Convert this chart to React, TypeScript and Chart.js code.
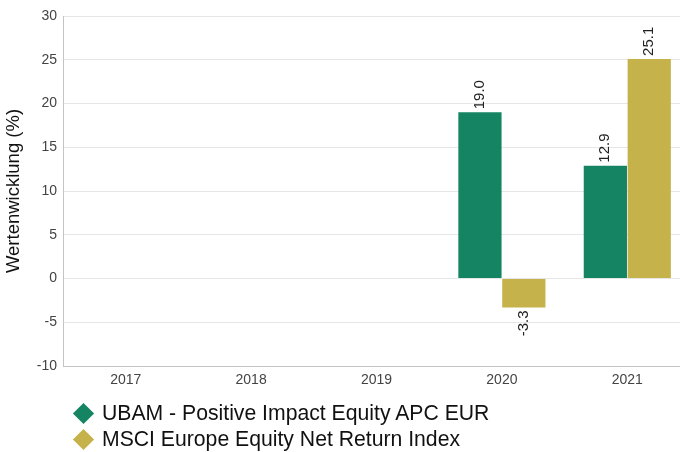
import React, { useEffect, useRef } from 'react';
import { Chart, registerables } from 'chart.js';

Chart.register(...registerables);

const categories = ['2017', '2018', '2019', '2020', '2021'];
const fundValues: (number | null)[] = [null, null, null, 19.0, 12.9];
const indexValues: (number | null)[] = [null, null, null, -3.3, 25.1];
const seriesNames = ['UBAM - Positive Impact Equity APC EUR', 'MSCI Europe Equity Net Return Index'];
const seriesColors = ['#158462', '#c6b24a'];
const yAxisTitle = 'Wertenwicklung (%)';
const yMin = -10;
const yMax = 30;
const yStep = 5;

const FONT = "'Liberation Sans', Arial, sans-serif";

const valueLabels = {
  id: 'valueLabels',
  afterDatasetsDraw(chart: any) {
    const ctx = chart.ctx;
    chart.data.datasets.forEach((ds: any, i: number) => {
      const meta = chart.getDatasetMeta(i);
      meta.data.forEach((bar: any, j: number) => {
        const v = ds.data[j];
        if (v === null || v === undefined) return;
        ctx.save();
        ctx.font = `15px ${FONT}`;
        ctx.fillStyle = '#222';
        ctx.translate(bar.x, v >= 0 ? bar.y - 3 : bar.y + 3);
        ctx.rotate(-Math.PI / 2);
        ctx.textAlign = v >= 0 ? 'left' : 'right';
        ctx.textBaseline = 'middle';
        ctx.fillText(v.toFixed(1), 0, 0);
        ctx.restore();
      });
    });
  },
};

export default function App() {
  const ref = useRef<HTMLCanvasElement>(null);

  useEffect(() => {
    if (!ref.current) return;
    const chart = new Chart(ref.current, {
      type: 'bar',
      data: {
        labels: categories,
        datasets: [
          {
            label: seriesNames[0],
            data: fundValues,
            backgroundColor: seriesColors[0],
            borderWidth: 0,
            categoryPercentage: 0.7,
            barPercentage: 0.985,
          },
          {
            label: seriesNames[1],
            data: indexValues,
            backgroundColor: seriesColors[1],
            borderWidth: 0,
            categoryPercentage: 0.7,
            barPercentage: 0.985,
          },
        ],
      },
      options: {
        responsive: false,
        animation: false,
        layout: { padding: { top: 16, left: 0, right: 2, bottom: 56 } },
        plugins: {
          legend: { display: false },
          tooltip: { enabled: false },
        },
        scales: {
          x: {
            grid: { display: false, drawTicks: false },
            border: { display: true, color: '#c4c4c4', width: 1 },
            ticks: { color: '#444', font: { family: FONT, size: 14 }, padding: 6 },
            afterFit: (s: any) => { s.height = 30; },
          },
          y: {
            min: yMin,
            max: yMax,
            grid: { color: '#e6e6e6', drawTicks: false },
            border: { display: true, color: '#c4c4c4', width: 1 },
            ticks: { stepSize: yStep, color: '#444', font: { family: FONT, size: 14 }, padding: 6 },
            title: {
              display: true,
              text: yAxisTitle,
              color: '#111',
              font: { family: FONT, size: 18.5 },
              padding: { top: 3, bottom: 0 },
            },
            afterFit: (s: any) => { s.width = 63; },
          },
        },
      },
      plugins: [valueLabels],
    });
    return () => chart.destroy();
  }, []);

  return (
    <div style={{ position: 'fixed', left: 0, top: 0, width: 680, height: 452, overflow: 'hidden', background: '#fff' }}>
      <canvas ref={ref} width={692} height={452} style={{ position: 'absolute', left: 0, top: 0 }} />
      <div style={{ position: 'absolute', left: 0, top: 398, fontFamily: FONT, fontSize: 21.2, color: '#111' }}>
        {seriesNames.map((name, i) => (
          <div key={name} style={{ height: 26, position: 'relative' }}>
            <span
              style={{
                position: 'absolute',
                left: 75.5,
                top: 8,
                width: 15,
                height: 15,
                background: seriesColors[i],
                transform: 'rotate(45deg)',
              }}
            />
            <span style={{ position: 'absolute', left: 102, top: 3, whiteSpace: 'nowrap', lineHeight: '24px' }}>{name}</span>
          </div>
        ))}
      </div>
    </div>
  );
}
